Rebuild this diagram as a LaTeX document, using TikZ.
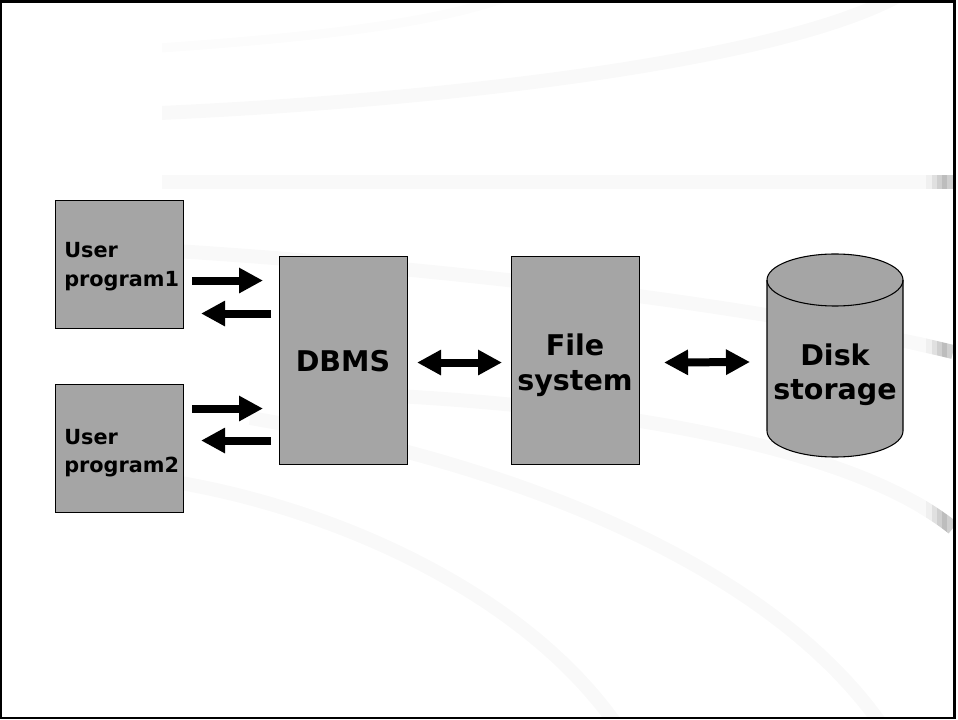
\documentclass[tikz,border=0pt]{standalone}
\usepackage{fontspec}
\setmainfont{DejaVu Sans}
\usetikzlibrary{arrows.meta,calc}
\definecolor{boxgray}{RGB}{165,165,165}
\definecolor{bandgray}{RGB}{249,249,249}
\definecolor{bandfaint}{RGB}{252,252,252}
\begin{document}
\begin{tikzpicture}[x=0.75pt, y=-0.75pt,
  box/.style={draw=black, line width=0.8pt, fill=boxgray, inner sep=0pt, anchor=north west},
  smalltext/.style={inner sep=0pt, anchor=base west, font=\bfseries\fontsize{15.6}{18}\selectfont},
  bigtext/.style={inner sep=0pt, anchor=base, font=\bfseries\fontsize{21.4}{25}\selectfont},
  onearrow/.style={line width=6pt, -{Triangle[length=18pt, width=18pt]}},
  twoarrow/.style={line width=6pt, {Triangle[length=18pt, width=18pt]}-{Triangle[length=18pt, width=18pt]}},
  band/.style={line width=10.5pt, draw=bandgray},
  band1/.style={insert path={(160,48) .. controls (300,38) and (440,25) .. (520,-8)}},
  band2/.style={insert path={(160,113) .. controls (450,100) and (790,60) .. (905,-8)}},
  band3/.style={insert path={(160,182) -- (953,182)}},
  band4/.style={insert path={(160,250) .. controls (450,268) and (760,305) .. (953,352)}},
  band5/.style={insert path={(300,392) .. controls (600,400) and (850,445) .. (953,528)}},
  band6/.style={insert path={(250,418) .. controls (500,460) and (770,560) .. (885,730)}},
  band7/.style={insert path={(175,482) .. controls (330,508) and (525,590) .. (620,730)}},
]
\useasboundingbox (0,0) rectangle (958,720);

% faint background swooshes, cut off on the left
\begin{scope}
  \clip (162,3) rectangle (953,717);
  \draw[band, draw=bandfaint, line width=7pt, band1];
  \draw[band, band2];
  \draw[band, band3];
  \draw[band, band4];
  \draw[band, band5];
  \draw[band, band6];
  \draw[band, band7];
  % darker shaded tips where the swooshes meet the right edge
  \foreach \xa/\xb/\c in {918/926/5, 926/932/12, 932/937/24, 937/942/38, 942/947/52, 947/953/38} {
    \begin{scope}
      \clip (\xa,0) rectangle (\xb,720);
      \draw[band, draw=gray!\c, band3];
      \draw[band, draw=gray!\c, band4];
      \draw[band, draw=gray!\c, band5];
    \end{scope}
  }
\end{scope}

% frame
\draw[line width=1.8pt] (1.2,1.5) rectangle (954.5,718);

% boxes
\node[box, minimum width=96pt, minimum height=96pt] (u1) at (55,200) {};
\node[box, minimum width=96pt, minimum height=96pt] (u2) at (55,384) {};
\node[box, minimum width=96pt, minimum height=156pt] (dbms) at (279,256) {};
\node[box, minimum width=96pt, minimum height=156pt] (fs) at (511,256) {};

% disk storage cylinder
\filldraw[fill=boxgray, draw=black, line width=0.8pt]
  (767,280) -- (767,431) arc[start angle=180, end angle=360, x radius=51pt, y radius=19.5pt]
  -- (903,280) arc[start angle=0, end angle=180, x radius=51pt, y radius=19.5pt] -- cycle;
\draw[line width=0.8pt] (767,280) arc[start angle=180, end angle=360, x radius=51pt, y radius=19.5pt];
\coordinate (diskw) at (767,362);

% labels
\node[smalltext] (u1a) at (64,258) {User};
\node[smalltext] (u1b) at (64,287) {program1};
\node[smalltext] (u2a) at (64,445) {User};
\node[smalltext] (u2b) at (64,473) {program2};
\node[bigtext] (dbmsl) at (343,372) {DBMS};
\node[bigtext] (fsa) at (575,356) {File};
\node[bigtext] (fsb) at (575,391) {system};
\node[bigtext] (diska) at (835,366) {Disk};
\node[bigtext] (diskb) at (835,400) {storage};

% request / reply arrows
\draw[onearrow] ($(u1.east)+(8,16)$) -- ($(dbms.west |- u1.east)+(-16,16)$);
\draw[onearrow] ($(dbms.west |- u1.east)+(-8,49)$) -- ($(u1.east)+(17,49)$);
\draw[onearrow] ($(u2.east)+(8,-40)$) -- ($(dbms.west |- u2.east)+(-16,-40)$);
\draw[onearrow] ($(dbms.west |- u2.east)+(-8,-8)$) -- ($(u2.east)+(17,-8)$);
\draw[twoarrow] ($(dbms.east)+(9,2)$) -- ($(fs.west)+(-9,2)$);
\draw[twoarrow] ($(fs.east)+(24,2)$) -- ($(diskw)+(-17,0)$);
\end{tikzpicture}
\end{document}
